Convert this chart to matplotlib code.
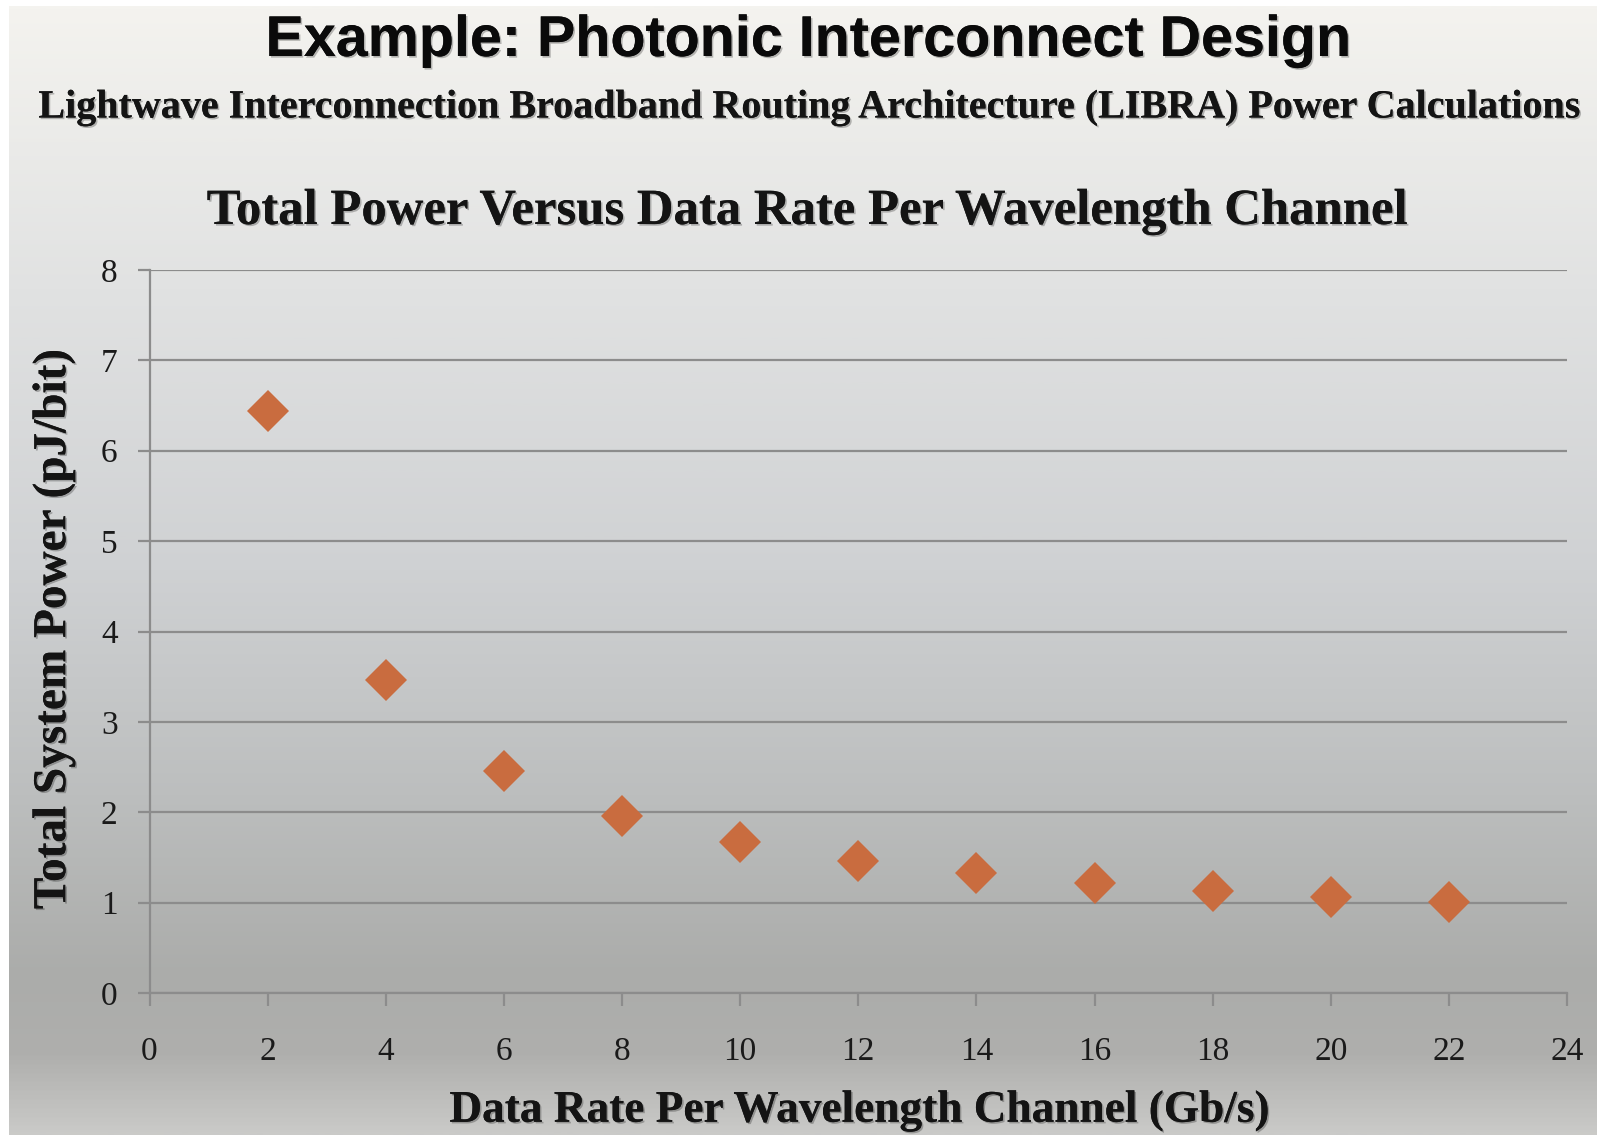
import numpy as np
import matplotlib
matplotlib.use("Agg")
import matplotlib.pyplot as plt
import matplotlib.patheffects as pe
from matplotlib.colors import LinearSegmentedColormap

# data rate per wavelength channel (Gb/s) and total system power (pJ/bit)
rate = [2, 4, 6, 8, 10, 12, 14, 16, 18, 20, 22]
power = [6.44, 3.46, 2.46, 1.96, 1.67, 1.46, 1.33, 1.22, 1.13, 1.06, 1.01]

xticks = list(range(0, 25, 2))
yticks = list(range(0, 9))

title = "Example: Photonic Interconnect Design"
subtitle = "Lightwave Interconnection Broadband Routing Architecture (LIBRA) Power Calculations"
chart_title = "Total Power Versus Data Rate Per Wavelength Channel"
xlabel = "Data Rate Per Wavelength Channel (Gb/s)"
ylabel = "Total System Power (pJ/bit)"

W, H = 1597, 1135
fig = plt.figure(figsize=(W / 100, H / 100), dpi=100, facecolor="white")

# slide background: vertical grey gradient
bg = fig.add_axes([9 / W, 0, 1 - 9 / W, 1 - 6 / H])
bg.axis("off")
stops = [(0.0, "#f4f3ef"), (0.25, "#e1e2e2"), (0.5, "#cfd1d3"), (0.7, "#bcbebe"),
         (0.86, "#abacaa"), (0.93, "#afafad"), (1.0, "#cacac8")]
cmap = LinearSegmentedColormap.from_list("slide", stops)
grad = np.linspace(0, 1, 512).reshape(-1, 1)
bg.imshow(grad, aspect="auto", cmap=cmap, extent=[0, 1, 1, 0])

x0, x1, y0, y1 = 149.5, 1567, 993, 270
ax = fig.add_axes([x0 / W, (H - y0) / H, (x1 - x0) / W, (y0 - y1) / H])
ax.set_facecolor("none")

grid_c = "#8c8c8c"
ax.plot(rate, power, linestyle="none", marker="D", markersize=21,
        color="#c96c3f", markeredgewidth=0, zorder=3)

ax.set_xlim(0, 24)
ax.set_ylim(0, 8)
ax.set_xticks(xticks)
ax.set_yticks(yticks)
ax.yaxis.grid(True, color=grid_c, linewidth=1.6)
ax.set_axisbelow(True)
for s in ["top", "right"]:
    ax.spines[s].set_visible(False)
for s in ["left", "bottom"]:
    ax.spines[s].set_color(grid_c)
    ax.spines[s].set_linewidth(1.6)
ax.tick_params(axis="both", direction="out", length=9, width=1.6, color=grid_c,
               labelsize=24, labelcolor="#1a1a1a")
ax.tick_params(axis="x", pad=22)
ax.tick_params(axis="y", pad=14)
for lab in ax.get_xticklabels() + ax.get_yticklabels():
    lab.set_fontfamily("Liberation Serif")

shadow = [pe.withSimplePatchShadow(offset=(1.2, -1.2), shadow_rgbFace="k", alpha=0.25), pe.Normal()]
serif = dict(family="Liberation Serif", weight="bold", color="#141414", path_effects=shadow)

texts = [
    (fig.text(809 / W, 1 - 41 / H, title, family="Liberation Sans", weight="bold",
              color="#0a0a0a", ha="center", va="center", path_effects=shadow), 1085, 0),
    (fig.text(808 / W, 1 - 108 / H, subtitle, ha="center", va="center", **serif), 1541, 0),
    (fig.text(808 / W, 1 - 212 / H, chart_title, ha="center", va="center", **serif), 1200, 0),
    (fig.text(859 / W, 1 - 1111 / H, xlabel, ha="center", va="center", **serif), 820, 0),
    (fig.text(54 / W, 1 - 629 / H, ylabel, ha="center", va="center", rotation=90, **serif), 560, 1),
]

# scale each heading so it spans its width on the slide
fig.canvas.draw()
r = fig.canvas.get_renderer()
for t, target, vert in texts:
    t.set_fontsize(20)
    bb = t.get_window_extent(r)
    size = bb.height if vert else bb.width
    t.set_fontsize(20 * target / size)

fig.savefig("out.png", dpi=100, facecolor=fig.get_facecolor())
